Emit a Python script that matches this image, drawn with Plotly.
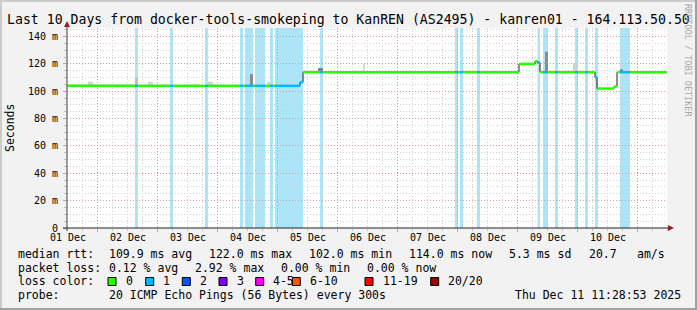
import plotly.graph_objects as go

# ---------------- data ----------------
day_labels = ["01 Dec", "02 Dec", "03 Dec", "04 Dec", "05 Dec",
              "06 Dec", "07 Dec", "08 Dec", "09 Dec", "10 Dec"]
day_label_hours = [0.4, 24.4, 48.4, 72.4, 96.4, 120.4, 144.4, 168.4, 192.4, 216.4]
major_grid_hours = [12, 36, 60, 84, 108, 132, 156, 180, 204, 228]

y_tick_vals = [0, 20, 40, 60, 80, 100, 120, 140]
y_tick_text = ["0", "20 m", "40 m", "60 m", "80 m", "100 m", "120 m", "140 m"]

# median rtt (ms) as step segments: start hour -> value
median_start_h = [0.0, 93.2, 94.4, 180.8, 187.2, 188.2, 189.2, 211.2, 212.0, 218.8, 220.0]
median_ms = [104.0, 106.7, 114.0, 120.0, 122.0, 121.0, 114.0, 110.0, 102.0, 103.5, 114.0]

# periods with packet loss (1 of 20 pings)
loss_start_h = [27.2, 41.2, 55.2, 69.2, 71.2, 75.2, 81.2, 83.2, 101.2, 155.2, 157.2,
                164.0, 188.2, 190.4, 195.2, 203.2, 207.2, 211.2, 221.2]
loss_end_h = [28.4, 42.4, 56.4, 70.4, 74.4, 79.2, 82.4, 94.4, 102.4, 156.4, 158.4,
              165.2, 189.2, 192.4, 196.4, 204.4, 208.4, 212.4, 225.2]
loss_pings = [1] * 19

# smoke (spread of individual pings)
smoke_start_h = [8.4, 27.2, 32.4, 56.4, 72.4, 73.2, 80.0, 94.4, 100.4, 118.4, 171.2, 191.2, 202.4, 221.2, 231.2]
smoke_end_h = [10.4, 28.4, 34.4, 58.4, 73.2, 74.4, 82.0, 96.4, 102.4, 119.2, 172.4, 192.4, 204.4, 222.4, 232.4]
smoke_low_ms = [104, 104, 104, 104, 104, 104, 104, 114, 114, 114, 114, 114, 114, 114, 114]
smoke_high_ms = [107, 110, 107, 107, 106, 112.5, 107, 115, 117, 120, 115.5, 129, 120.5, 116, 115]
smoke_shade = ["#d4d4d4", "#bdbdbd", "#d4d4d4", "#d4d4d4", "#d4d4d4", "#8c8c8c", "#d4d4d4",
               "#d4d4d4", "#808080", "#d8d8d8", "#d8d8d8", "#8c8c8c", "#d0d0d0", "#7a7a7a", "#dadada"]

loss_legend_labels = ["0", "1", "2", "3", "4-5", "6-10", "11-19", "20/20"]
loss_legend_colors = ["#26ff00", "#00b8ff", "#0059ff", "#7e00ff", "#ff00ff", "#ff5500", "#ff0000", "#a10000"]

X_MAX = 240.0
Y_MAX = 146.3
LOSS_BG = "#aae6fa"

# ---------------- geometry helpers (pixels -> paper) ----------------
PL, PR, PT, PB = 67, 667, 28, 228
def px(x):
    return (x - PL) / (PR - PL)
def py(y):
    return (PB - y) / (PB - PT)

fig = go.Figure()

# black step line under the coloured median
fig.add_trace(go.Scatter(
    x=median_start_h + [X_MAX], y=median_ms + [median_ms[-1]],
    mode="lines", line=dict(color="#202020", width=1, shape="hv"),
    hoverinfo="skip"))

# smoke
fig.add_trace(go.Bar(
    x=[(a + b) / 2 for a, b in zip(smoke_start_h, smoke_end_h)],
    width=[b - a for a, b in zip(smoke_start_h, smoke_end_h)],
    base=smoke_low_ms,
    y=[h - l for h, l in zip(smoke_high_ms, smoke_low_ms)],
    marker=dict(color=smoke_shade, line=dict(width=0)),
    hoverinfo="skip"))

# coloured median pieces
bounds = sorted(set(median_start_h + [X_MAX] + loss_start_h + loss_end_h))
pieces = {}
for a, b in zip(bounds[:-1], bounds[1:]):
    m = (a + b) / 2
    val = None
    for s, v in zip(median_start_h, median_ms):
        if s <= m:
            val = v
    loss = 0
    for s, e, n in zip(loss_start_h, loss_end_h, loss_pings):
        if s <= m <= e:
            loss = n
    xs, ys = pieces.setdefault(loss, ([], []))
    xs += [a, b, None]
    ys += [val, val, None]
for loss, (xs, ys) in pieces.items():
    fig.add_trace(go.Scatter(x=xs, y=ys, mode="lines",
                             line=dict(color=loss_legend_colors[loss], width=2.5),
                             hoverinfo="skip"))

# dummy trace for label axis
fig.add_trace(go.Scatter(x=[0, X_MAX], y=[None, None], xaxis="x2", mode="lines",
                         hoverinfo="skip"))

shapes = []
# loss background bars (below grid)
for s, e in zip(loss_start_h, loss_end_h):
    shapes.append(dict(type="rect", xref="x", yref="y", x0=s, x1=e, y0=0, y1=Y_MAX,
                       fillcolor=LOSS_BG, line=dict(width=0), layer="below"))

# frame
W, H = 697, 310
shapes += [
    dict(type="rect", xref="paper", yref="paper", x0=px(0), x1=px(W), y0=py(0), y1=py(2),
         fillcolor="#cbcbcb", line=dict(width=0)),
    dict(type="rect", xref="paper", yref="paper", x0=px(0), x1=px(2), y0=py(0), y1=py(H),
         fillcolor="#cbcbcb", line=dict(width=0)),
    dict(type="rect", xref="paper", yref="paper", x0=px(0), x1=px(W), y0=py(H - 2), y1=py(H),
         fillcolor="#a0a0a0", line=dict(width=0)),
    dict(type="rect", xref="paper", yref="paper", x0=px(W - 2), x1=px(W), y0=py(0), y1=py(H),
         fillcolor="#a0a0a0", line=dict(width=0)),
]
# axes lines and arrows
shapes += [
    dict(type="line", xref="paper", yref="paper", x0=px(63), x1=px(668), y0=py(228), y1=py(228),
         line=dict(color="#202020", width=1)),
    dict(type="line", xref="paper", yref="paper", x0=px(67), x1=px(67), y0=py(231), y1=py(26),
         line=dict(color="#404040", width=1)),
    dict(type="path", xref="paper", yref="paper",
         path=f"M {px(64)},{py(27)} L {px(70)},{py(27)} L {px(67)},{py(21)} Z",
         fillcolor="#9b1c1c", line=dict(width=0)),
    dict(type="path", xref="paper", yref="paper",
         path=f"M {px(668)},{py(225)} L {px(668)},{py(231)} L {px(674)},{py(228)} Z",
         fillcolor="#9b1c1c", line=dict(width=0)),
]
# loss colour legend boxes
box_x = [108, 145.7, 182.3, 219, 255.7, 292.3, 365, 430.7]
for bx, col in zip(box_x, loss_legend_colors):
    shapes.append(dict(type="rect", xref="paper", yref="paper", x0=px(bx), x1=px(bx + 8),
                       y0=py(277.5), y1=py(285.5), fillcolor=col,
                       line=dict(color="#000000", width=1)))

MONO = "DejaVu Sans Mono"
ann = []
def text(x, y, s, size=11.5, color="#000000", anchor="left", angle=0):
    ann.append(dict(xref="paper", yref="paper", x=px(x), y=py(y), text=s, showarrow=False,
                    xanchor=anchor, yanchor="middle", textangle=angle,
                    font=dict(family=MONO, size=size, color=color)))

text(5, 19, "Last 10 Days from docker-tools-smokeping to KanREN (AS2495) - kanren01 - 164.113.50.50", size=13.2)
text(10, 128, "Seconds", anchor="center", angle=-90)
text(688, 60, "RRDTOOL / TOBI OETIKER", size=8.5, color="#a8a8a8", anchor="center", angle=90)

L1, L2, L3, L4 = 253.5, 267.7, 281.3, 295.3
text(16, L1, "median rtt:")
text(107.3, L1, "109.9 ms avg")
text(207.3, L1, "122.0 ms max")
text(307.3, L1, "102.0 ms min")
text(407.3, L1, "114.0 ms now")
text(507.3, L1, "5.3 ms sd")
text(586.7, L1, "20.7")
text(635, L1, "am/s")
text(16, L2, "packet loss:")
text(107.3, L2, "0.12 % avg")
text(193.3, L2, "2.92 % max")
text(279.3, L2, "0.00 % min")
text(365, L2, "0.00 % now")
text(16, L3, "loss color:")
for bx, lab in zip(box_x, loss_legend_labels):
    text(bx + 15.5, L3, lab)
text(16, L4, "probe:")
text(107.3, L4, "20 ICMP Echo Pings (56 Bytes) every 300s")
text(513.3, L4, "Thu Dec 11 11:28:53 2025")

RED_GRID = "rgba(226,140,140,0.85)"
GREY_GRID = "#d0d0d0"
AXIS_FONT = dict(family=MONO, size=10, color="#000000")
fig.update_layout(
    width=W, height=H,
    margin=dict(l=PL, r=W - PR, t=PT, b=H - PB, pad=0),
    paper_bgcolor="#f2f2f2", plot_bgcolor="#ffffff",
    showlegend=False, barmode="overlay",
    font=dict(family=MONO, size=11.5, color="#000000"),
    shapes=shapes, annotations=ann,
    xaxis=dict(range=[0, X_MAX], tickmode="array", tickvals=major_grid_hours,
               ticktext=[""] * len(major_grid_hours),
               showgrid=True, gridcolor=RED_GRID, griddash="1px,2px", gridwidth=1,
               ticks="outside", ticklen=3, tickcolor=RED_GRID,
               zeroline=False, showline=False, fixedrange=True,
               minor=dict(tick0=0, dtick=6, showgrid=True, gridcolor=GREY_GRID,
                          griddash="1px,2px", ticks="outside", ticklen=2, tickcolor="#c0c0c0")),
    xaxis2=dict(range=[0, X_MAX], overlaying="x", anchor="y", side="bottom",
                tickmode="array", tickvals=day_label_hours, ticktext=day_labels,
                showgrid=False, zeroline=False, showline=False, ticks="",
                ticklabelstandoff=2,
                tickfont=AXIS_FONT, fixedrange=True),
    yaxis=dict(range=[0, Y_MAX], tickmode="array", tickvals=y_tick_vals, ticktext=y_tick_text,
               showgrid=True, gridcolor=RED_GRID, griddash="1px,2px", gridwidth=1,
               ticks="outside", ticklen=3, tickcolor=RED_GRID,
               zeroline=False, showline=False, fixedrange=True,
               ticklabelstandoff=3,
               tickfont=AXIS_FONT,
               minor=dict(tick0=0, dtick=5, showgrid=True, gridcolor=GREY_GRID,
                          griddash="1px,2px", ticks="outside", ticklen=2, tickcolor="#c0c0c0")),
)

fig.write_html("out.html")
